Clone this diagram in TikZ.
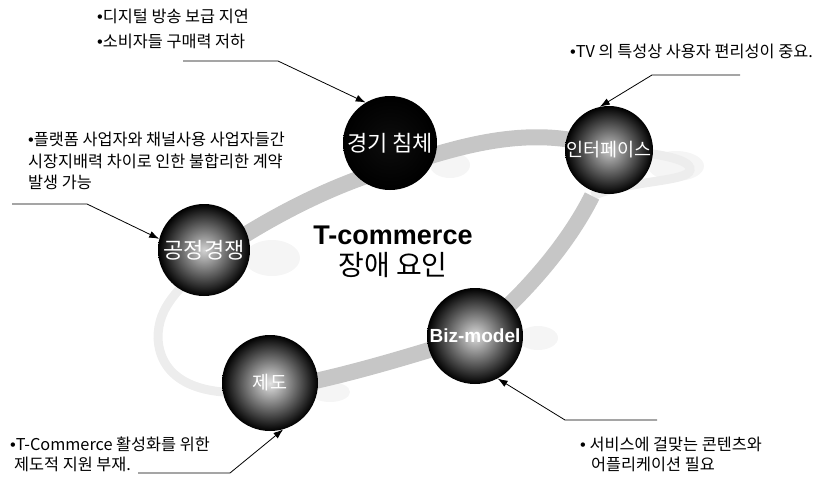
\documentclass[tikz,border=0pt]{standalone}
\usepackage{fontspec}
\setmainfont{Liberation Sans}
\newfontfamily\kr{Noto Sans CJK KR}
\usetikzlibrary{positioning,arrows.meta}
\newcommand{\bul}{{\rmfamily\textbullet}}
\tikzset{
  ball/.style={circle, minimum size=#1, inner sep=0pt, text=white, shading=radial, outer color=black},
  ball/.default=94pt,
  ballText/.style={font=\kr\fontsize{22}{22}\selectfont},
  note/.style={font=\kr\fontsize{16.3}{21.5}\selectfont, align=left, inner sep=0pt, anchor=north west},
  callout/.style={draw, line width=0.8pt, -{Latex[length=10pt,width=7pt]}},
  ringFront/.style={draw=gray!45, line width=16pt},
  ringBack/.style={draw=gray!14, line width=9pt},
  glow/.style={fill=gray!8}
}

\begin{document}
\begin{tikzpicture}[x=1pt,y=-1pt]
\useasboundingbox (0,0) rectangle (826,477);
%% faint shadows beside the balls
\foreach \cx/\cy/\rx/\ry in {450/165/20/13, 676/166/28/15, 272/258/28/18, 538/338/20/12, 330/392/20/10}
  \fill[glow] (\cx,\cy) ellipse [x radius=\rx, y radius=\ry];
%the ring
\coordinate (rA) at (204,262);
\coordinate (rB) at (392,168);
\coordinate (rC) at (609,150);
\coordinate (rD) at (690,170);
\coordinate (rE) at (592,196);
\coordinate (rF) at (475,336);
\coordinate (rG) at (270,390);
\coordinate (rH) at (158,338);
\draw[ringBack] (rC) .. controls (650,152) and (692,158) .. (rD) .. controls (688,182) and (630,180) .. (rE);
\draw[ringBack] (rG) .. controls (200,400) and (160,380) .. (rH) .. controls (158,305) and (180,290) .. (rA);
\draw[ringFront] (rA) .. controls (260,222) and (330,185) .. (rB);
\draw[ringFront] (rB) .. controls (450,150) and (530,120) .. (rC);
\draw[ringFront] (rE) .. controls (570,240) and (530,290) .. (rF);
\draw[ringFront] (rF) .. controls (410,356) and (340,378) .. (rG);
%the balls
\node[ball, inner color=black!95, ballText] (slumpBall) at (390,143) {경기 침체};
\node[ball=88pt, inner color=gray!45, ballText, font=\kr\fontsize{18.5}{18.5}\selectfont] (ifaceBall) at (609,150) {인터페이스};
\node[ball=92pt, inner color=gray!35, ballText] (fairBall) at (204,250) {공정경쟁};
\node[ball=96pt, inner color=gray!28, font=\bfseries\fontsize{19}{19}\selectfont] (bizBall) at (475,336) {Biz-model};
\node[ball=96pt, inner color=gray!22, ballText, font=\kr\fontsize{18.5}{18.5}\selectfont] (lawBall) at (270,383) {제도};
%the center title
\node[font=\bfseries\fontsize{27}{27}\selectfont, inner sep=0pt] (title) at (393,235) {T-commerce};
\node[font=\kr\fontsize{28}{28}\selectfont, inner sep=0pt, below=8pt of title] (titleKr) {장애 요인};
%the notes
\node[note, font=\kr\fontsize{16.3}{25}\selectfont] (slumpNote) at (97,9) {\bul 디지털 방송 보급 지연\\\bul 소비자들 구매력 저하};
\node[note] (fairNote) at (28,132) {\bul 플랫폼 사업자와 채널사용 사업자들간\\시장지배력 차이로 인한 불합리한 계약\\발생 가능};
\node[note] (ifaceNote) at (570,44) {\bul TV 의 특성상 사용자 편리성이 중요.};
\node[note, font=\kr\fontsize{16.3}{20}\selectfont] (bizNote) at (580,437) {\bul\ 서비스에 걸맞는 콘텐츠와\\\hspace*{11pt}어플리케이션 필요};
\node[note, font=\kr\fontsize{16.3}{20}\selectfont] (lawNote) at (10,437) {\bul T-Commerce 활성화를 위한\\\hspace*{4pt}제도적 지원 부재.};
%drawings of lines
\coordinate (slumpStart) at (183,61);
\coordinate (slumpBend) at (278,61);
\coordinate (fairStart) at (12,204);
\coordinate (fairBend) at (87,204);
\coordinate (ifaceStart) at (740,75);
\coordinate (ifaceBend) at (652,75);
\coordinate (bizStart) at (657,420);
\coordinate (bizBend) at (565,420);
\coordinate (lawStart) at (138,473);
\coordinate (lawBend) at (230,473);
\draw[callout] (slumpStart) -- (slumpBend) -- (slumpBall.121);
\draw[callout] (fairStart) -- (fairBend) -- (fairBall.166);
\draw[callout] (ifaceStart) -- (ifaceBend) -- (ifaceBall.102);
\draw[callout] (bizStart) -- (bizBend) -- (bizBall.298);
\draw[callout] (lawStart) -- (lawBend) -- (lawBall.286);
\end{tikzpicture}
\end{document}
